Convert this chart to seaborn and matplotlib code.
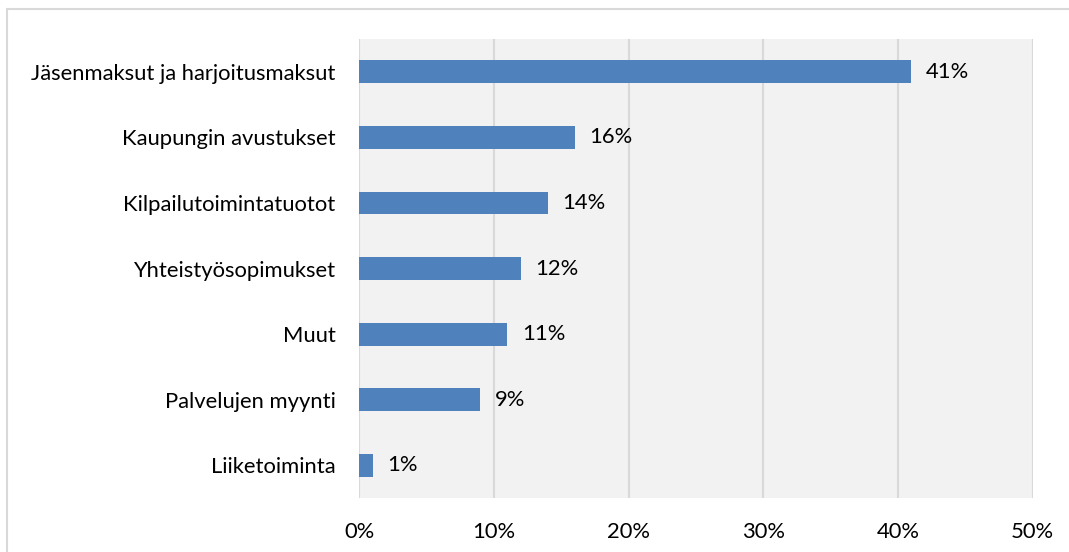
import matplotlib
matplotlib.use("Agg")
import matplotlib.pyplot as plt
import seaborn as sns
import pandas as pd
from matplotlib.patches import Rectangle

categories = [
    "Jäsenmaksut ja harjoitusmaksut",
    "Kaupungin avustukset",
    "Kilpailutoimintatuotot",
    "Yhteistyösopimukset",
    "Muut",
    "Palvelujen myynti",
    "Liiketoiminta",
]
shares = [41, 16, 14, 12, 11, 9, 1]
tick_values = [0, 10, 20, 30, 40, 50]

df = pd.DataFrame({"category": categories, "share": shares})

sns.set_theme(style="white")
plt.rcParams["font.family"] = ["Lato", "DejaVu Sans"]

FS = 15.8

fig = plt.figure(figsize=(10.69, 5.52), dpi=100)
ax = fig.add_axes([0.336, 0.098, 0.630, 0.831])

ax.set_facecolor("#F2F2F2")
sns.barplot(data=df, y="category", x="share", orient="h", color="#4F81BD",
            saturation=1, width=0.35, linewidth=0, ax=ax, zorder=3)

ax.set_xlim(0, 50)
ax.set_xticks(tick_values)
ax.set_xticklabels([f"{v}%" for v in tick_values], fontsize=FS, color="#000000")
ax.tick_params(axis="x", length=0, pad=17)
ax.tick_params(axis="y", length=0, pad=17, labelsize=FS, labelcolor="#000000")
ax.set_xlabel("")
ax.set_ylabel("")
ax.xaxis.grid(True, color="#D9D9D9", linewidth=1.5, zorder=0)
ax.yaxis.grid(False)
ax.set_axisbelow(True)
for side in ["top", "bottom", "left", "right"]:
    ax.spines[side].set_visible(False)

for patch, val in zip(ax.patches, shares):
    y = patch.get_y() + patch.get_height() / 2
    ax.text(patch.get_width() + 1.1, y, f"{val}%", va="center", ha="left",
            fontsize=FS, color="#000000")

# Chart frame
fig.patches.append(Rectangle((7 / 1069, -0.05), 1.1, 1 - 9 / 552 + 0.05,
                             transform=fig.transFigure, fill=False,
                             edgecolor="#D9D9D9", linewidth=1.5))

fig.savefig("out.png", dpi=100, facecolor="white")
